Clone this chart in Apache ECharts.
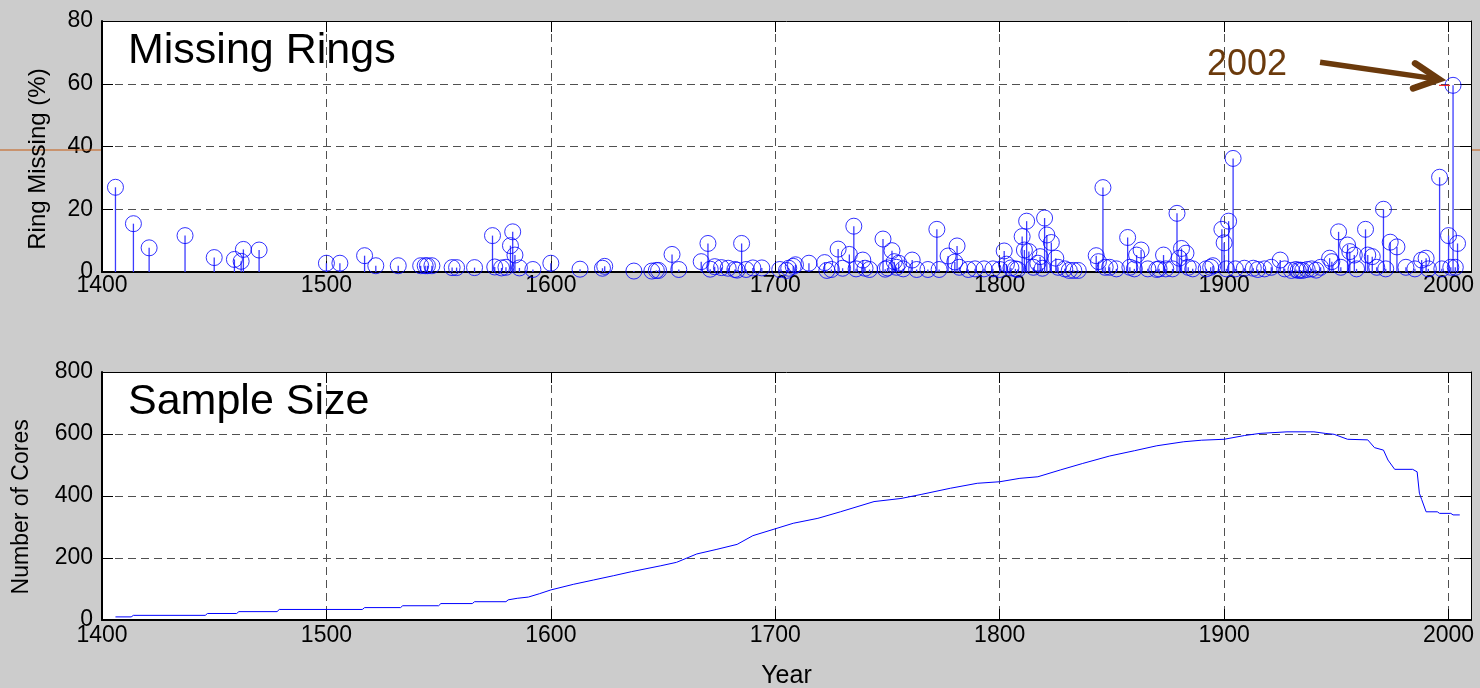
<!DOCTYPE html>
<html><head><meta charset="utf-8">
<script src="https://cdn.jsdelivr.net/npm/echarts@6/dist/echarts.min.js"></script>
<style>html,body{margin:0;padding:0;background:#cccccc}#c{width:1480px;height:688px}</style>
</head><body><div id="c"></div><script>
// ---- Missing rings (stem plot) ----
const ringYears = [
 1406,1414,1421,1437,1450,1459,1462,1463,1470,1500,
 1506,1517,1522,1532,1542,1544,1545,1547,1556,1558,
 1566,1574,1575,1578,1580,1582,1583,1584,1586,1592,
 1600,1613,1623,1624,1637,1645,1647,1648,1654,1657,
 1667,1670,1671,1673,1676,1679,1682,1683,1685,1687,
 1690,1694,1702,1705,1706,1708,1709,1715,1722,1723,
 1725,1728,1730,1733,1735,1736,1739,1740,1742,1748,
 1749,1750,1752,1753,1754,1755,1757,1761,1763,1768,
 1772,1773,1777,1780,1781,1782,1786,1789,1793,1797,
 1800,1802,1803,1805,1807,1808,1810,1811,1812,1813,
 1815,1817,1818,1819,1820,1821,1823,1825,1826,1829,
 1831,1833,1835,1843,1844,1846,1847,1849,1852,1857,
 1858,1860,1861,1863,1866,1870,1871,1873,1874,1877,
 1879,1880,1881,1883,1884,1886,1892,1894,1895,1899,
 1900,1901,1902,1904,1905,1909,1913,1915,1918,1921,
 1925,1927,1930,1932,1933,1934,1935,1937,1939,1941,
 1943,1947,1948,1951,1952,1955,1956,1958,1959,1963,
 1964,1966,1968,1971,1972,1974,1977,1981,1985,1988,
 1990,1991,1996,1997,2000,2001,2002,2003,2004
];
const ringValues = [
 27,15.4,7.7,11.6,4.6,4.0,3.4,7.2,7.0,2.8,
 2.8,5.2,2.0,2.0,2.0,2.0,2.0,2.0,1.4,1.4,
 1.4,11.6,1.6,1.3,1.5,8.4,12.8,5.4,1.3,0.8,
 2.8,0.9,1.2,1.8,0.3,0.3,0.5,0.5,5.6,0.8,
 3.3,9.1,0.9,1.7,1.4,1.2,0.8,0.6,9.1,0.8,
 1.3,1.3,0.8,0.5,1.2,1.8,2.3,2.8,3.0,0.5,
 0.8,7.3,1.2,5.6,14.6,1.0,3.8,1.2,0.8,10.5,
 0.9,1.3,6.8,3.3,1.5,2.8,1.0,3.8,0.8,0.8,
 13.6,0.8,5.1,3.2,8.3,1.5,0.8,1.0,1.0,1.0,
 0.8,6.7,2.5,1.3,1.0,0.8,11.3,7.0,16.2,6.5,
 1.5,2.8,4.9,1.2,17.2,11.8,9.4,4.4,1.5,1.0,
 0.5,0.5,0.5,5.2,3.3,26.9,1.5,1.5,1.0,11.0,
 1.5,1.0,5.4,7.0,1.0,0.8,1.0,5.4,1.0,1.0,
 18.7,4.4,7.5,6.0,1.5,1.0,1.0,1.5,2.0,13.6,
 9.3,1.0,16.2,36.2,1.0,1.2,1.2,0.8,1.0,1.5,
 3.8,1.0,0.5,0.8,0.5,0.6,0.5,0.8,1.0,0.6,
 1.5,4.4,3.3,12.8,1.5,8.6,6.5,5.4,1.0,13.6,
 5.4,4.9,1.5,20.0,1.0,9.5,8.0,1.5,1.0,3.8,
 4.4,1.0,30.2,1.0,11.6,1.5,59.5,1.5,9.1
];
// ---- Sample size (number of cores) ----
const sizeYears = [
 1406,1413,1414,1446,1447,1460,1461,1478,1479,1516,
 1517,1533,1534,1550,1551,1565,1566,1580,1581,1585,
 1590,1595,1600,1610,1619,1628,1636,1649,1656,1665,
 1674,1683,1690,1699,1708,1719,1729,1744,1756,1765,
 1778,1790,1800,1809,1817,1827,1837,1849,1860,1870,
 1882,1890,1900,1909,1916,1928,1940,1945,1949,1955,
 1964,1967,1971,1973,1976,1984,1986,1987,1988,1990,
 1995,1996,2001,2002,2005
];
const sizeValues = [
 10,10,15,15,21,21,27,27,34,34,
 40,40,46,46,53,53,59,59,65,70,
 74,85,97,115,129,143,156,175,186,213,
 228,244,272,292,312,328,349,382,392,405,
 425,441,446,457,462,484,505,529,546,562,
 575,580,583,595,602,607,607,602,599,583,
 581,556,548,516,486,486,478,409,389,349,
 349,344,344,339,339
];
const xTickLabels = [1400,1500,1600,1700,1800,1900,2000];
const ringTicks = [0,20,40,60,80];
const sizeTicks = [0,200,400,600,800];
const highlightYear = 2002;
const highlightLabel = '2002';
const ringTitle = 'Missing Rings';
const sizeTitle = 'Sample Size';
const ringAxisName = 'Ring Missing (%)';
const sizeAxisName = 'Number of Cores';
const xAxisName = 'Year';

const FONT = '"Liberation Sans", Arial, sans-serif';
const FS = 23;
const BLUE = '#0000ff';
const STEM = '#3c3cff';
const BROWN = '#6b3a0c';
const chart = echarts.init(document.getElementById('c'), null, {renderer:'canvas'});

function xAxisBottom(g, withName){
  const ax = {
    type:'value', gridIndex:g, position:'bottom',
    min:xTickLabels[0], max:2010, interval:100,
    axisLine:{show:true, onZero:false, lineStyle:{color:'#000', width:2}},
    axisTick:{show:true, inside:true, length:11, lineStyle:{color:'#000', width:1}},
    axisLabel:{show:true, fontSize:FS, color:'#000', fontFamily:FONT, margin:g===0?2:4,
      showMaxLabel:false, formatter:v=> (v%100===0 ? String(v) : '')},
    splitLine:{show:true, lineStyle:{color:'#505050', width:1, type:[8,5]}}
  };
  if (withName){
    ax.name=xAxisName; ax.nameLocation='middle'; ax.nameGap=44;
    ax.nameTextStyle={fontSize:25, color:'#000', fontFamily:FONT};
  }
  return ax;
}
function xAxisTop(g){
  return {type:'value', gridIndex:g, position:'top', min:xTickLabels[0], max:2010, interval:100,
    axisLine:{show:true, onZero:false, lineStyle:{color:'#000', width:1}},
    axisTick:{show:true, inside:true, length:11, lineStyle:{color:'#000'}},
    axisLabel:{show:false}, splitLine:{show:false}};
}
function yAxisLeft(g, ticks){
  return {type:'value', gridIndex:g, position:'left', min:ticks[0], max:ticks[ticks.length-1],
    interval:ticks[1]-ticks[0],
    axisLine:{show:true, onZero:false, lineStyle:{color:'#000', width:2}},
    axisTick:{show:true, inside:true, length:11, lineStyle:{color:'#000'}},
    axisLabel:{show:true, fontSize:FS, color:'#000', fontFamily:FONT, margin:9},
    splitLine:{show:true, lineStyle:{color:'#505050', width:1, type:[8,5]}}};
}
function yAxisRight(g, ticks){
  return {type:'value', gridIndex:g, position:'right', min:ticks[0], max:ticks[ticks.length-1],
    interval:ticks[1]-ticks[0],
    axisLine:{show:true, onZero:false, lineStyle:{color:'#000', width:1}},
    axisTick:{show:true, inside:true, length:11, lineStyle:{color:'#000'}},
    axisLabel:{show:false}, splitLine:{show:false}};
}

const ringData = ringYears.map((y,i)=>[y, ringValues[i]]);
const sizeData = sizeYears.map((y,i)=>[y, sizeValues[i]]);

chart.setOption({
  animation:false,
  backgroundColor:'#cccccc',
  grid:[
    {left:102, top:21, width:1369, height:251, show:true, backgroundColor:'#ffffff', borderWidth:0, containLabel:false, outerBoundsMode:'none'},
    {left:102, top:372, width:1369, height:248, show:true, backgroundColor:'#ffffff', borderWidth:0, containLabel:false, outerBoundsMode:'none'}
  ],
  xAxis:[xAxisBottom(0,false), xAxisBottom(1,true), xAxisTop(0), xAxisTop(1)],
  yAxis:[yAxisLeft(0, ringTicks), yAxisLeft(1, sizeTicks), yAxisRight(0, ringTicks), yAxisRight(1, sizeTicks)],
  series:[
    {type:'custom', xAxisIndex:0, yAxisIndex:0, data:ringData, silent:true, clip:true, z:2,
      itemStyle:{color:STEM},
      renderItem:function(params, api){
        const top = api.coord([api.value(0), api.value(1)]);
        const base = api.coord([api.value(0), 0]);
        return {type:'line', shape:{x1:top[0], y1:top[1], x2:top[0], y2:base[1]},
          style:{stroke:STEM, lineWidth:1.3}};
      }},
    {type:'scatter', xAxisIndex:0, yAxisIndex:0, data:ringData, symbol:'circle', symbolSize:16,
      silent:true, z:3,
      itemStyle:{color:'rgba(0,0,0,0)', borderColor:BLUE, borderWidth:1}},
    {type:'line', xAxisIndex:1, yAxisIndex:1, data:sizeData, showSymbol:false, silent:true, z:2,
      lineStyle:{color:BLUE, width:1}}
  ]
});

// annotations anchored to the 2002 point
const hi = ringYears.indexOf(highlightYear);
const C = chart.convertToPixel({xAxisIndex:0, yAxisIndex:0}, [highlightYear, ringValues[hi]]);
const tip = [C[0]-14, C[1]-6];
const tail = [C[0]-133, C[1]-23];
const gL = chart.convertToPixel({xAxisIndex:0}, xTickLabels[0]);
const gR = chart.convertToPixel({xAxisIndex:0}, 2010);
const ringMid = chart.convertToPixel({yAxisIndex:0}, 36);
const sizeMid = chart.convertToPixel({yAxisIndex:1}, 365);

chart.setOption({
  graphic:[
    {type:'line', shape:{x1:0, y1:150, x2:gL-1, y2:150}, style:{stroke:'#c55a11', lineWidth:1}, z:10},
    {type:'line', shape:{x1:gR+1, y1:150, x2:1480, y2:150}, style:{stroke:'#c55a11', lineWidth:1}, z:10},
    {type:'text', x:38, y:ringMid, rotation:Math.PI/2,
      style:{text:ringAxisName, font:'24px '+FONT, fill:'#000', align:'center', verticalAlign:'middle'}, z:10},
    {type:'text', x:22, y:sizeMid, rotation:Math.PI/2,
      style:{text:sizeAxisName, font:'23px '+FONT, fill:'#000', align:'center', verticalAlign:'middle'}, z:10},
    {type:'text', left:128, top:30, style:{text:ringTitle, font:'43px '+FONT, fill:'#000'}, z:10},
    {type:'text', left:128, top:381, style:{text:sizeTitle, font:'43px '+FONT, fill:'#000'}, z:10},
    {type:'text', x:C[0]-206, y:C[1]-20, style:{text:highlightLabel, font:'36px '+FONT, fill:BROWN, align:'center', verticalAlign:'middle'}, z:10},
    {type:'line', shape:{x1:C[0]-14, y1:C[1], x2:C[0]-3, y2:C[1]}, style:{stroke:'#ff0000', lineWidth:1}, z:9},
    {type:'polyline', shape:{points:[tail, [tip[0]-5, tip[1]-0.7]]}, style:{stroke:BROWN, lineWidth:5.5, fill:null}, z:10},
    {type:'polyline', shape:{points:[[tip[0]-24, tip[1]-16], tip, [tip[0]-26, tip[1]+9]]},
      style:{stroke:BROWN, lineWidth:6.5, fill:null, lineJoin:'miter', lineCap:'round'}, z:10}
  ]
});
</script></body></html>
